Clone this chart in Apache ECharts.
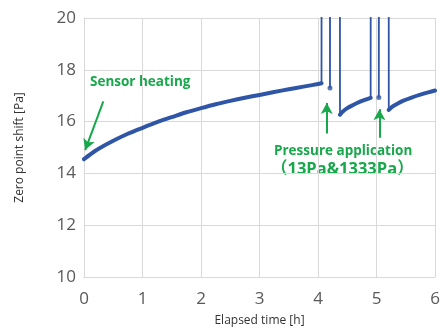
<!DOCTYPE html>
<html>
<head>
<meta charset="utf-8">
<script src="https://cdn.jsdelivr.net/npm/echarts@6/dist/echarts.min.js"></script>
<style>html,body{margin:0;padding:0;background:#fff}#c{width:446px;height:333px}</style>
</head>
<body>
<div id="c"></div>
<script>
// Zero point drift of the sensor over elapsed time [h] vs shift [Pa]
const xTicks = [0, 1, 2, 3, 4, 5, 6];
const yTicks = [10, 12, 14, 16, 18, 20];

// Warm-up curve before the first pressure application
const warmTime  = [0, 0.1, 0.25, 0.5, 0.75, 1, 1.25, 1.5, 1.75, 2, 2.25, 2.5, 2.75, 3, 3.25, 3.5, 3.75, 4, 4.06];
const warmShift = [14.55, 14.72, 14.95, 15.26, 15.53, 15.76, 15.98, 16.17, 16.36, 16.52, 16.67, 16.8, 16.92, 17.03, 17.14, 17.25, 17.35, 17.45, 17.48];

// Recovery after the first application
const rec1Time  = [4.376, 4.42, 4.5, 4.6, 4.7, 4.8, 4.9];
const rec1Shift = [16.27, 16.38, 16.52, 16.64, 16.75, 16.84, 16.92];

// Recovery after the second application
const rec2Time  = [5.21, 5.26, 5.35, 5.45, 5.6, 5.75, 5.9, 6.0];
const rec2Shift = [16.45, 16.56, 16.68, 16.8, 16.93, 17.04, 17.14, 17.2];

// Off-scale excursions while pressure is applied (above the axis top)
const spikeTime  = [4.06, 4.065, 4.2, 4.205, 4.21, 4.37, 4.376, null, 4.9, 4.905, 5.035, 5.04, 5.045, 5.205, 5.21];
const spikeShift = [17.48, 40, 40, 17.3, 40, 40, 16.27, null, 16.92, 40, 40, 16.93, 40, 40, 16.45];

// Single readings between the two excursions
const dotTime  = [4.205, 5.04];
const dotShift = [17.3, 16.93];

const BLUE = '#2f56a6';
const GREEN = '#16a84a';

function pairs(xs, ys) { return xs.map((x, i) => [x, ys[i]]); }

const curve = [].concat(pairs(warmTime, warmShift), [[null, null]], pairs(rec1Time, rec1Shift), [[null, null]], pairs(rec2Time, rec2Shift));
const spikes = spikeTime.map((x, i) => x === null ? [null, null] : [x, spikeShift[i]]);

const chart = echarts.init(document.getElementById('c'));
chart.setOption({
  animation: false,
  grid: { left: 84, right: 11, top: 18, bottom: 56 },
  xAxis: {
    type: 'value', min: 0, max: 6, interval: 1,
    name: 'Elapsed time [h]', nameLocation: 'middle', nameGap: 38,
    nameTextStyle: { fontFamily: 'Open Sans', fontSize: 12, color: '#333' },
    axisLine: { show: true, lineStyle: { color: '#d9d9d9' } },
    axisTick: { show: false },
    axisLabel: { fontFamily: 'Open Sans', fontSize: 17, color: '#595959', margin: 14,
      formatter: v => xTicks.includes(v) ? String(v) : '' },
    splitLine: { show: true, lineStyle: { color: '#d9d9d9' } }
  },
  yAxis: {
    type: 'value', min: 10, max: 20, interval: 2,
    name: 'Zero point shift [Pa]', nameLocation: 'middle', nameGap: 58,
    nameTextStyle: { fontFamily: 'Open Sans', fontSize: 12, color: '#333' },
    axisLine: { show: true, lineStyle: { color: '#d9d9d9' } },
    axisTick: { show: false },
    axisLabel: { fontFamily: 'Open Sans', fontSize: 17, color: '#595959', margin: 8,
      formatter: v => yTicks.includes(v) ? String(v) : '' },
    splitLine: { show: true, lineStyle: { color: '#d9d9d9' } }
  },
  series: [
    {
      type: 'line', data: spikes, showSymbol: false, connectNulls: false, clip: true,
      lineStyle: { color: BLUE, width: 1.8 }, z: 2
    },
    {
      type: 'line', data: curve, showSymbol: false, connectNulls: false, smooth: 0.3,
      lineStyle: { color: BLUE, width: 4, cap: 'round', join: 'round' }, z: 3,
      markLine: {
        silent: true, animation: false,
        symbol: ['none', 'arrow'], symbolSize: [9, 11],
        label: { show: false },
        lineStyle: { color: GREEN, width: 2, type: 'solid' },
        data: [
          [{ coord: [0.33, 16.78] }, { coord: [0.02, 14.9] }],
          [{ coord: [4.15, 15.54] }, { coord: [4.15, 16.72] }],
          [{ coord: [5.05, 15.38] }, { coord: [5.05, 16.48] }]
        ]
      }
    },
    {
      type: 'scatter', data: pairs(dotTime, dotShift), symbolSize: 5,
      itemStyle: { color: BLUE }, z: 4
    }
  ],
  graphic: [
    { type: 'text', left: 90, top: 75,
      style: { text: 'Sensor heating', fill: GREEN, font: 'bold 13.5px "Open Sans"' } },
    { type: 'text', left: 274, top: 144,
      style: { text: 'Pressure application', fill: GREEN, font: 'bold 13.5px "Open Sans"' } },
    { type: 'text', left: 271, top: 161,
      style: { text: '（13Pa&1333Pa）', fill: GREEN, font: 'bold 16.5px "Open Sans", "Noto Sans CJK JP"' } }
  ]
});
</script>
</body>
</html>
